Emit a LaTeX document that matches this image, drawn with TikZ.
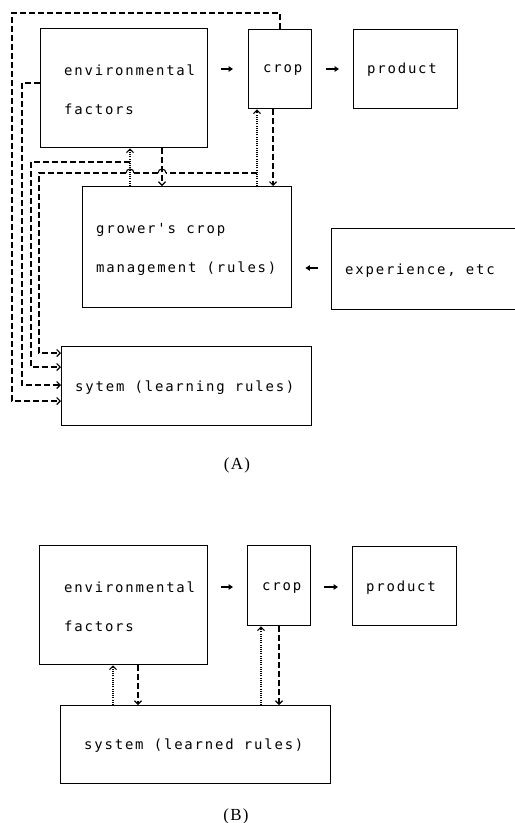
\documentclass[tikz,border=0pt]{standalone}
\usepackage{fontspec}
\newfontfamily\dmono[LetterSpace=13]{DejaVu Sans Mono}
\newfontfamily\lserif[LetterSpace=8]{Liberation Serif}
\usetikzlibrary{arrows.meta,calc}
\begin{document}
\begin{tikzpicture}[x=1bp,y=-1bp,
  box/.style={draw,line width=1.4bp,rectangle,inner sep=0pt,anchor=north west},
  lbl/.style={font=\dmono\fontsize{14}{39}\selectfont,align=left,anchor=west,inner sep=0pt},
  fb/.style={line width=1.1bp,dash pattern=on 6bp off 3bp},
  dt/.style={line width=1.1bp,dash pattern=on 1bp off 1.2bp},
  tip/.style={-{Straight Barb[length=3.5bp,width=7bp,line width=1.1bp]}},
  flow/.style={line width=1.4bp,-{Triangle[length=4.5bp,width=5.5bp]}},
  hop/.style={line width=1.1bp},
  panelcap/.style={font=\lserif\fontsize{17}{19}\selectfont,inner sep=0pt}
]
\useasboundingbox (0,0) rectangle (515,823);
\clip (0,0) rectangle (515,823);
\fill[white] (0,0) rectangle (515,823);

% ---------- Panel A ----------
\node[box,minimum width=167bp,minimum height=119bp] (envA) at (40,28) {};
\node[box,minimum width=63bp,minimum height=79bp] (cropA) at (248,29) {};
\node[box,minimum width=104bp,minimum height=79bp] (prodA) at (353,29) {};
\node[box,minimum width=209bp,minimum height=121bp] (growA) at (82,186) {};
\node[box,minimum width=190bp,minimum height=81bp] (expA) at (331,228) {};
\node[box,minimum width=250bp,minimum height=79bp] (sysA) at (61,346) {};

\node[lbl] (envAt) at (64,89.5) {environmental\\factors};
\node[lbl] (cropAt) at (263,70) {crop};
\node[lbl] (prodAt) at (367,70) {product};
\node[lbl] (growAt) at (96,249) {grower's crop\\management (rules)};
\node[lbl] (expAt) at (345,271) {experience, etc};
\node[lbl] (sysAt) at (75,388) {sytem (learning rules)};
\node[panelcap] (capA) at (237,465) {(A)};

\draw[flow,shorten <=13bp,shorten >=15bp] (envA.east |- 0,69) -- (cropA.west |- 0,69);
\draw[flow,shorten <=14bp,shorten >=14bp] (cropA.east |- 0,69) -- (prodA.west |- 0,69);
\draw[flow,shorten <=13bp,shorten >=13bp] (expA.west |- 0,268) -- (growA.east |- 0,268);

\coordinate (j1) at (130,162);
\coordinate (j2) at (257,173);
\coordinate (h1r) at (166,173);
\coordinate (h1l) at (158,173);
\coordinate (h2r) at (134,173);
\coordinate (h2l) at (126,173);

\draw[fb,tip] (cropA.north -| 280,0) -- (280,13) -- (12,13) -- (12,401) -- (sysA.west |- 0,401);
\draw[fb,tip] (envA.west |- 0,83) -- (22,83) -- (22,385) -- (sysA.west |- 0,385);
\draw[dt,tip] (growA.north -| 130,0) -- (envA.south -| 130,0);
\draw[fb,tip] (j1) -- (31,162) -- (31,367) -- (sysA.west |- 0,367);
\draw[fb,tip] (envA.south -| 162,0) -- (growA.north -| 162,0);
\draw[dt,tip] (growA.north -| 257,0) -- (cropA.south -| 257,0);
% line from crop feedback to system, hopping over two verticals
\draw[fb] (j2) -- (h1r);
\draw[hop] (h1r) arc[start angle=0,end angle=-180,radius=4];
\draw[fb] (h1l) -- (h2r);
\draw[hop] (h2r) arc[start angle=0,end angle=-180,radius=4];
\draw[fb,tip] (h2l) -- (39,173) -- (39,353) -- (sysA.west |- 0,353);
\draw[fb,tip] (cropA.south -| 273,0) -- (growA.north -| 273,0);

% ---------- Panel B ----------
\node[box,minimum width=168bp,minimum height=119bp] (envB) at (39,545) {};
\node[box,minimum width=63bp,minimum height=80bp] (cropB) at (247,545) {};
\node[box,minimum width=104bp,minimum height=79bp] (prodB) at (352,546) {};
\node[box,minimum width=270bp,minimum height=78bp] (sysB) at (60,705) {};

\node[lbl] (envBt) at (64,607) {environmental\\factors};
\node[lbl] (cropBt) at (262,588) {crop};
\node[lbl] (prodBt) at (366,588) {product};
\node[lbl] (sysBt) at (84,746) {system (learned rules)};
\node[panelcap] (capB) at (236,816) {(B)};

\draw[flow,shorten <=13bp,shorten >=14bp] (envB.east |- 0,587) -- (cropB.west |- 0,587);
\draw[flow,shorten <=13bp,shorten >=14bp] (cropB.east |- 0,587) -- (prodB.west |- 0,587);

\draw[dt,tip] (sysB.north -| 113,0) -- (envB.south -| 113,0);
\draw[fb,tip] (envB.south -| 138,0) -- (sysB.north -| 138,0);
\draw[dt,tip] (sysB.north -| 261,0) -- (cropB.south -| 261,0);
\draw[fb,tip] (cropB.south -| 279,0) -- (sysB.north -| 279,0);
\end{tikzpicture}
\end{document}
